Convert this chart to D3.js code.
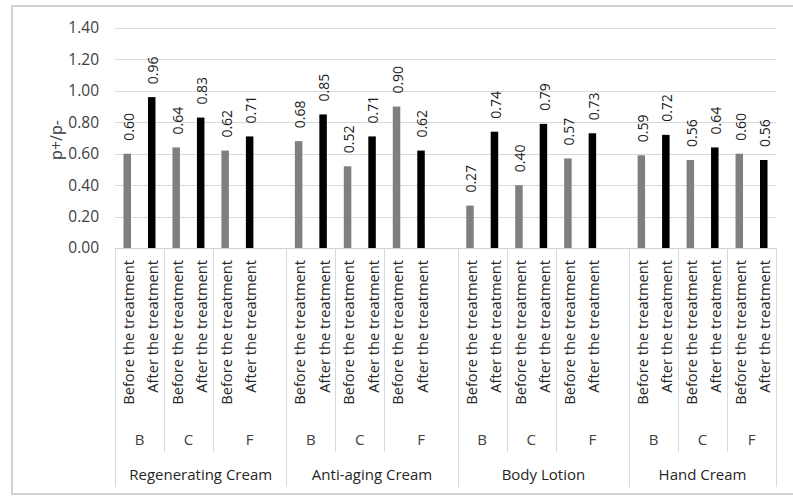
<!DOCTYPE html>
<html>
<head>
<meta charset="utf-8">
<script src="https://cdn.jsdelivr.net/npm/d3@7"></script>
<style>
html,body{margin:0;padding:0;background:#fff;}
svg{display:block;font-family:"Open Sans",sans-serif;}
</style>
</head>
<body>
<svg id="chart" width="793" height="496"></svg>
<script>
const groups = ["Regenerating Cream","Anti-aging Cream","Body Lotion","Hand Cream"];
const subgroups = ["B","C","F"];
const phases = ["Before the treatment","After the treatment"];
const beforeValues = [0.60,0.64,0.62, 0.68,0.52,0.90, 0.27,0.40,0.57, 0.59,0.56,0.60];
const afterValues  = [0.96,0.83,0.71, 0.85,0.71,0.62, 0.74,0.79,0.73, 0.72,0.64,0.56];
const yTicks = [0,0.2,0.4,0.6,0.8,1.0,1.2,1.4];
const yTitle = "p+/p-";

(function () {
const svg = d3.select("#chart");
const plotLeft = 115, plotRight = 776, plotTop = 28, plotBottom = 248;

const slots = [];
const bars = [];
groups.forEach((g, gi) => {
  subgroups.forEach((s, si) => {
    phases.forEach((p, pi) => {
      const key = g + "|" + s + "|" + p;
      slots.push({key, g, s, p, gi, si, pi});
      const idx = gi * subgroups.length + si;
      bars.push({key, value: pi === 0 ? beforeValues[idx] : afterValues[idx], pi});
    });
    if (si === subgroups.length - 1 && gi < groups.length - 1) {
      slots.push({key: g + "|" + s + "|blank", g, s, p: "", gi, si, pi: -1});
    }
  });
});

const x = d3.scaleBand().domain(slots.map(d => d.key)).range([plotLeft, plotRight]).padding(0);
const y = d3.scaleLinear().domain([0, 1.4]).range([plotBottom, plotTop]);
const bw = x.bandwidth();

svg.append("rect").attr("x", 12).attr("y", 6).attr("width", 800).attr("height", 488)
  .attr("fill", "none").attr("stroke", "#c4c4c4").attr("stroke-width", 1.5);

svg.append("g").selectAll("line").data(yTicks.filter(t => t > 0)).join("line")
  .attr("x1", plotLeft).attr("x2", plotRight)
  .attr("y1", d => Math.round(y(d)) + 0.5).attr("y2", d => Math.round(y(d)) + 0.5)
  .attr("stroke", "#d9d9d9").attr("stroke-width", 1);

const yAxis = d3.axisLeft(y).tickValues(yTicks).tickFormat(d3.format(".2f")).tickSize(0).tickPadding(0);
const ya = svg.append("g").attr("transform", `translate(${99},0)`).call(yAxis);
ya.select(".domain").remove();
ya.selectAll("text").attr("font-family", "Open Sans").attr("font-size", 15.5).attr("fill", "#404040");

svg.append("text").attr("transform", "translate(56,140) rotate(-90)")
  .attr("text-anchor", "middle").attr("dominant-baseline", "central")
  .attr("font-size", 16).attr("fill", "#404040").text(yTitle);

const barW = 7.5;
svg.append("g").selectAll("rect").data(bars).join("rect")
  .attr("x", d => x(d.key) + bw / 2 - barW / 2)
  .attr("width", barW)
  .attr("y", d => y(d.value))
  .attr("height", d => y(0) - y(d.value))
  .attr("fill", d => d.pi === 0 ? "#7f7f7f" : "#000000");

svg.append("g").selectAll("text").data(bars).join("text")
  .attr("transform", d => `translate(${x(d.key) + bw / 2 + 1.5},${y(d.value) - 13}) rotate(-90)`)
  .attr("text-anchor", "start").attr("dy", "0.35em")
  .attr("font-size", 14).attr("fill", "#1a1a1a")
  .text(d => d3.format(".2f")(d.value));

svg.append("line").attr("x1", plotLeft).attr("x2", plotRight).attr("y1", plotBottom + 0.5).attr("y2", plotBottom + 0.5)
  .attr("stroke", "#d0d0d0").attr("stroke-width", 1);

svg.append("g").selectAll("text").data(slots.filter(d => d.pi >= 0)).join("text")
  .attr("transform", d => `translate(${x(d.key) + bw / 2 + 1.5},${260}) rotate(-90)`)
  .attr("text-anchor", "end").attr("dy", "0.35em")
  .attr("font-size", 14.7).attr("fill", "#262626")
  .text(d => d.p);

const subExt = [];
const grpExt = [];
groups.forEach((g, gi) => {
  const gs = slots.filter(d => d.gi === gi);
  grpExt.push({name: g, x0: x(gs[0].key), x1: x(gs[gs.length - 1].key) + bw});
  subgroups.forEach((s, si) => {
    const ss = gs.filter(d => d.si === si);
    subExt.push({name: s, gi, si, x0: x(ss[0].key), x1: x(ss[ss.length - 1].key) + bw});
  });
});

svg.append("g").selectAll("line").data(subExt.filter(d => d.si > 0)).join("line")
  .attr("x1", d => Math.round(d.x0) + 0.5).attr("x2", d => Math.round(d.x0) + 0.5)
  .attr("y1", plotBottom).attr("y2", 452)
  .attr("stroke", "#d9d9d9").attr("stroke-width", 1);
svg.append("g").selectAll("line").data(grpExt.map(d => d.x0).concat([plotRight])).join("line")
  .attr("x1", d => Math.round(d) + 0.5).attr("x2", d => Math.round(d) + 0.5)
  .attr("y1", plotBottom).attr("y2", 487)
  .attr("stroke", "#d9d9d9").attr("stroke-width", 1);

svg.append("g").selectAll("text").data(subExt).join("text")
  .attr("x", d => (d.x0 + d.x1) / 2).attr("y", 440)
  .attr("text-anchor", "middle").attr("dy", "0.35em")
  .attr("font-size", 15).attr("fill", "#404040").text(d => d.name);

svg.append("g").selectAll("text").data(grpExt).join("text")
  .attr("x", d => (d.x0 + d.x1) / 2).attr("y", 475)
  .attr("text-anchor", "middle").attr("dy", "0.35em")
  .attr("font-size", 15).attr("fill", "#262626").text(d => d.name);
})();
</script>
</body>
</html>
